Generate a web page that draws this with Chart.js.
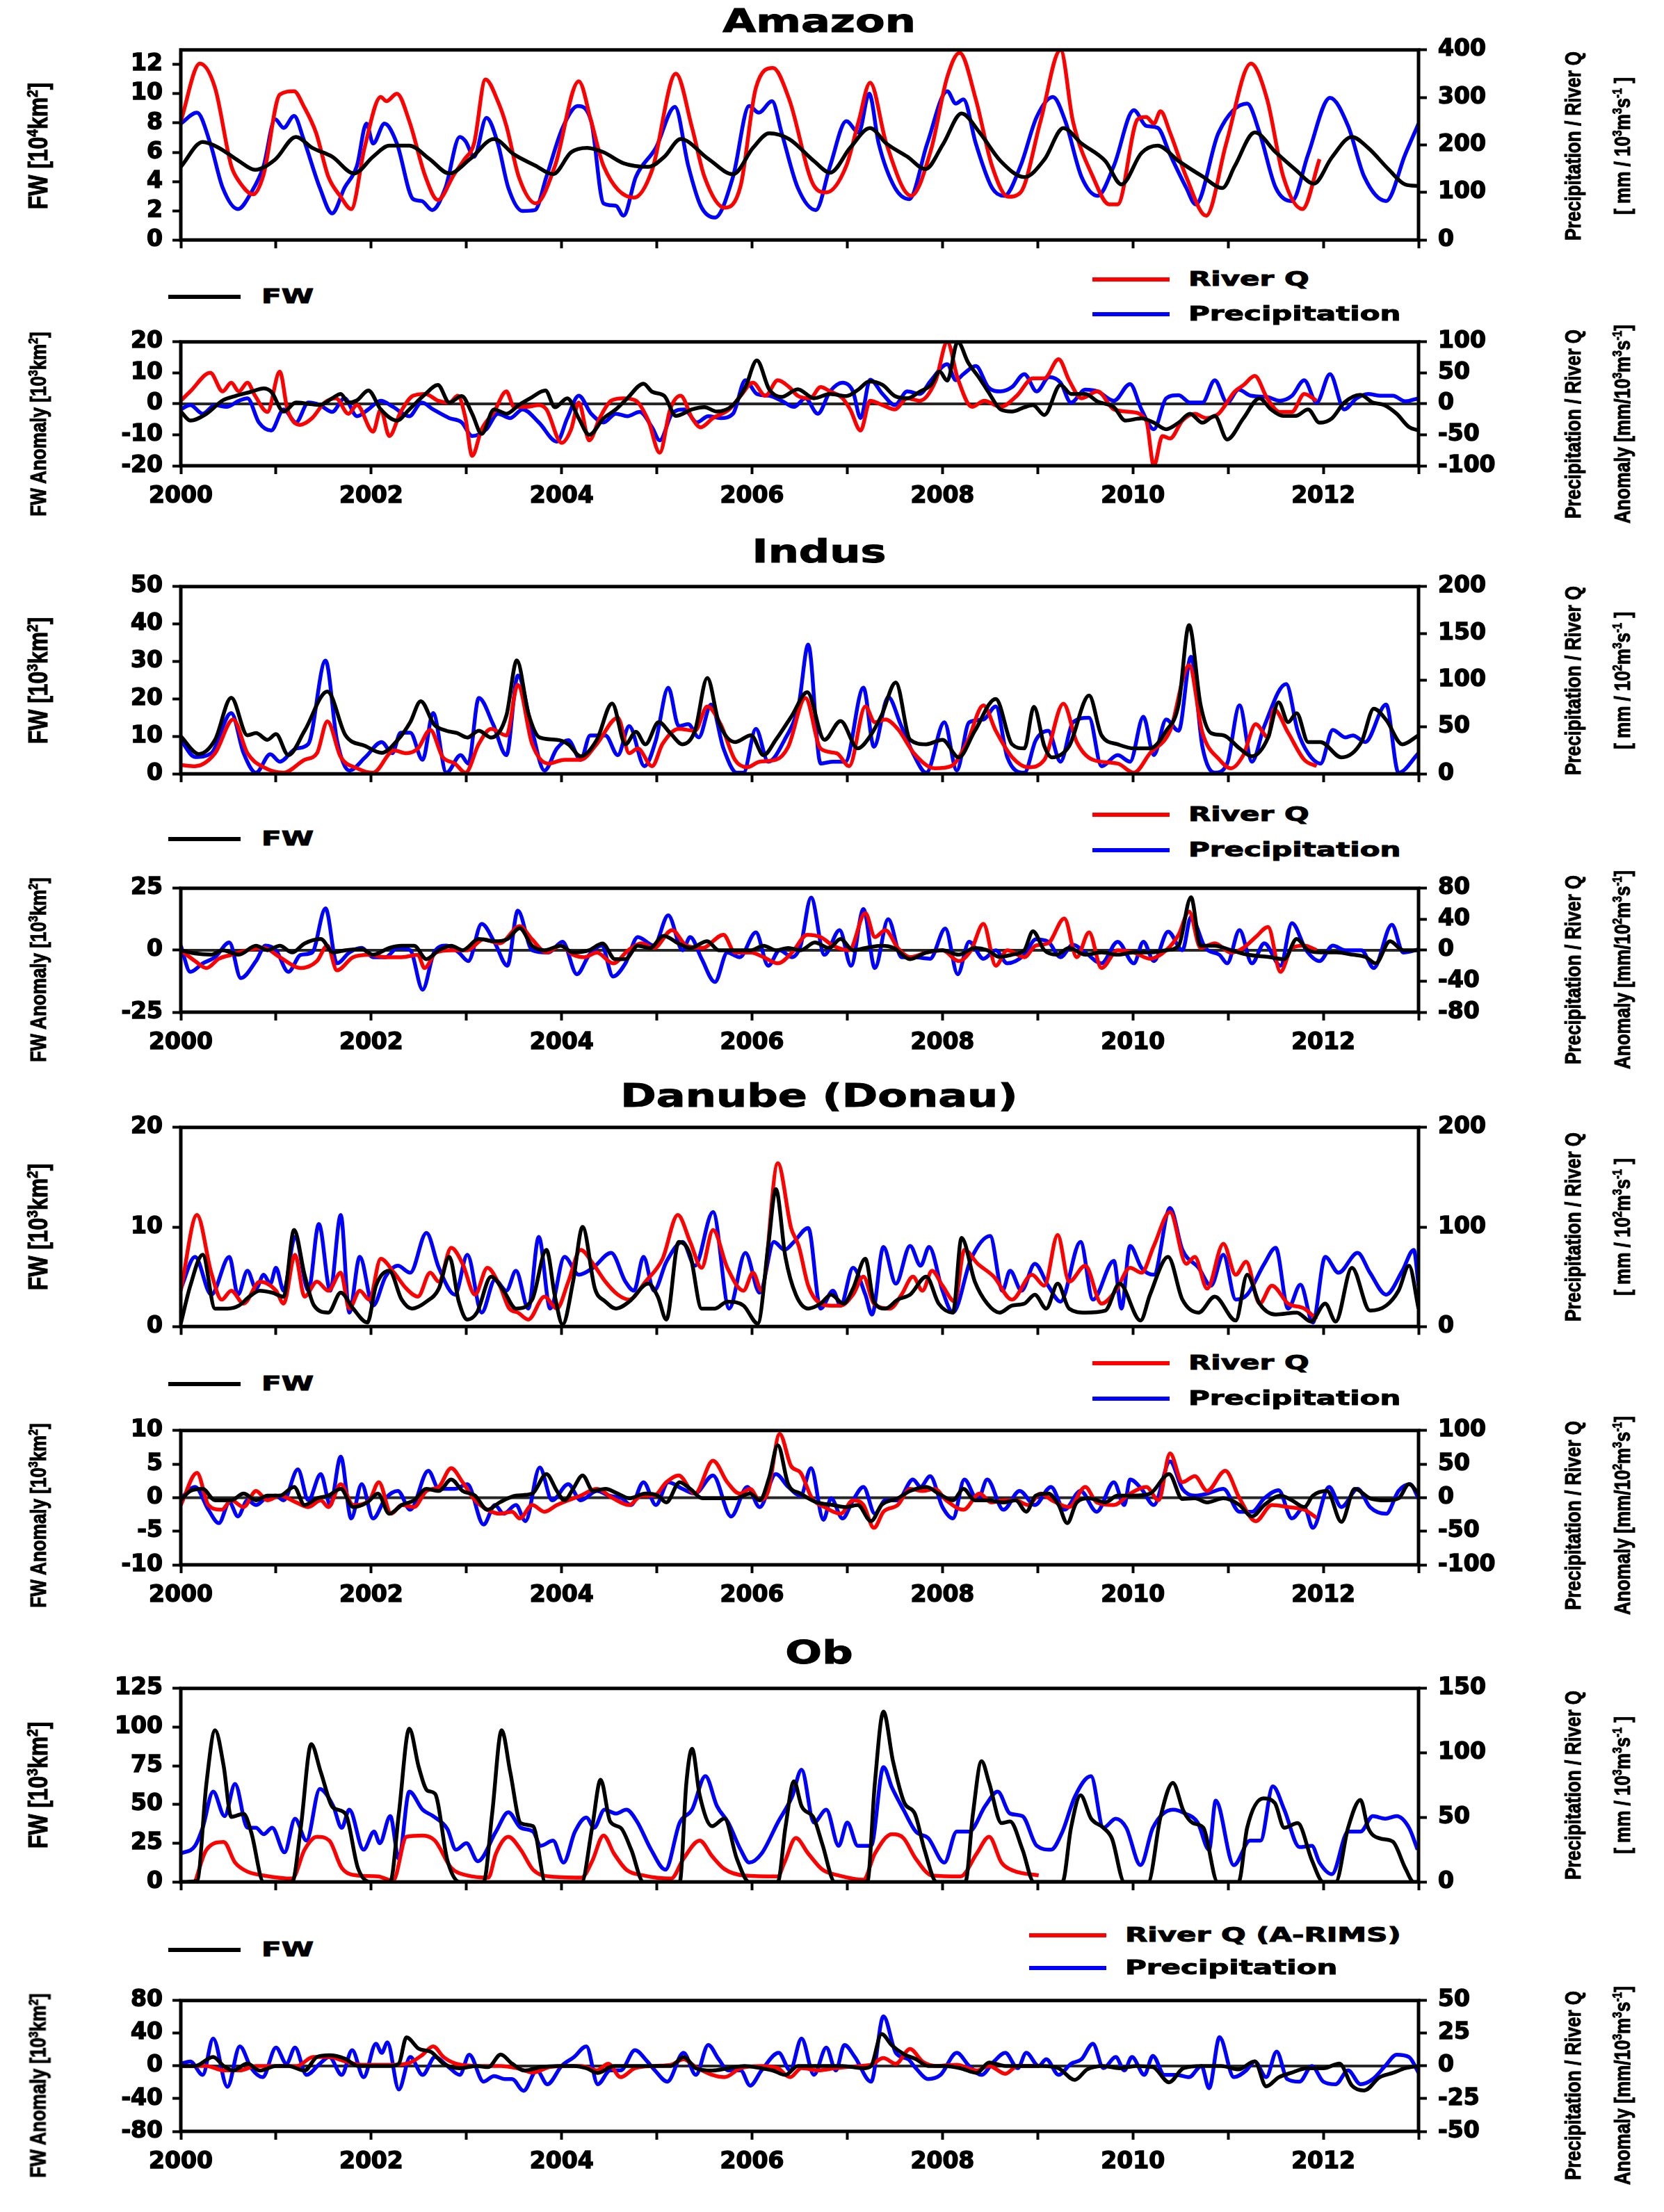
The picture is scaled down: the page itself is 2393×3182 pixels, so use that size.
<!DOCTYPE html>
<html>
<head>
<meta charset="utf-8">
<script src="https://cdn.jsdelivr.net/npm/chart.js@4.4.1/dist/chart.umd.min.js"></script>
<style>
body{margin:0;background:#fff;width:2393px;height:3182px;position:relative;overflow:hidden}
canvas{position:absolute;left:0}
.t{position:absolute;white-space:nowrap;font-weight:bold;color:#000;line-height:1}
.t sup{font-size:0.6em;vertical-align:0.6em;line-height:0}
.s{-webkit-text-stroke:1px #000}
.ln{position:absolute;height:6px}
</style>
</head>
<body>
<script>
// times are years since 2000; values in axis units
const baseYear = 2000;
const yearTicks = ['2000','2002','2004','2006','2008','2010','2012'];

// ---- Amazon ----
const amazonFW = [[0,5.0],[.23,6.7],[.40,6.3],[.61,5.4],[.78,4.8],[.99,5.5],[1.21,7.05],[1.38,6.3],[1.59,5.7],[1.82,4.55],[2.02,5.7],[2.19,6.45],[2.40,6.45],[2.61,5.55],[2.82,4.55],[3.04,5.55],[3.29,6.9],[3.50,5.85],[3.72,5.1],[3.91,4.5],[4.10,6.0],[4.27,6.3],[4.44,6.0],[4.65,5.25],[4.91,5.0],[5.08,5.7],[5.25,6.9],[5.54,5.55],[5.80,4.5],[6.01,6.3],[6.18,7.3],[6.39,6.9],[6.65,5.4],[6.82,4.6],[7.03,6.3],[7.24,7.65],[7.41,6.6],[7.63,5.7],[7.82,4.85],[8.01,6.6],[8.20,8.65],[8.39,7.35],[8.61,5.4],[8.86,4.3],[9.07,5.5],[9.27,7.65],[9.46,6.6],[9.71,5.4],[9.88,3.8],[10.09,5.95],[10.26,6.45],[10.48,5.4],[10.73,4.35],[10.94,3.55],[11.07,5.05],[11.28,7.35],[11.50,6.0],[11.71,4.8],[11.90,3.85],[12.09,5.65],[12.30,7.05],[12.47,6.3],[12.69,4.8],[12.86,3.8],[13,3.7]];
const amazonQT = [0,.20,.36,.53,.61,.76,.87,1.04,1.19,1.29,1.42,1.55,1.68,1.79,1.93,2.10,2.16,2.27,2.40,2.57,2.70,2.87,2.98,3.08,3.20,3.33,3.42,3.55,3.73,3.93,4.18,4.31,4.44,4.76,4.95,5.20,5.37,5.50,5.71,5.88,6.04,6.22,6.39,6.65,6.78,6.99,7.12,7.24,7.41,7.67,7.88,8.05,8.18,8.35,8.52,8.69,8.82,9.03,9.24,9.37,9.58,9.75,9.84,10.05,10.14,10.22,10.29,10.39,10.56,10.77,10.98,11.24,11.41,11.58,11.78,11.96];
const amazonQ = [250,371,320,156,124,96,138,306,313,282,226,133,91,65,194,301,292,308,250,133,84,138,170,203,338,292,240,133,77,156,334,250,156,89,147,350,236,133,68,114,320,362,296,114,100,156,250,331,203,93,190,343,394,296,156,91,100,250,400,250,133,75,75,254,259,245,271,226,133,51,203,371,296,133,65,170];
const amazonP = [[0,245],[.17,268],[.31,203],[.44,110],[.60,65],[.74,100],[.87,156],[.99,254],[1.08,236],[1.19,261],[1.29,212],[1.46,110],[1.59,56],[1.72,110],[1.85,156],[1.95,245],[2.02,203],[2.14,245],[2.27,203],[2.44,86],[2.53,82],[2.64,63],[2.78,110],[2.93,217],[2.99,208],[3.08,175],[3.21,257],[3.33,203],[3.44,110],[3.59,61],[3.72,63],[3.84,133],[4.01,236],[4.17,282],[4.31,250],[4.44,77],[4.57,72],[4.65,51],[4.78,133],[4.99,194],[5.19,280],[5.33,156],[5.46,72],[5.61,47],[5.80,133],[5.97,282],[6.07,268],[6.21,292],[6.31,226],[6.48,110],[6.67,63],[6.82,156],[6.99,250],[7.12,226],[7.23,308],[7.33,203],[7.50,110],[7.65,86],[7.84,203],[8.05,313],[8.14,287],[8.22,296],[8.35,203],[8.52,110],[8.65,93],[8.82,156],[8.99,259],[9.16,301],[9.29,250],[9.46,133],[9.63,93],[9.80,156],[10.01,273],[10.14,240],[10.26,236],[10.39,180],[10.56,110],[10.66,75],[10.90,226],[11.20,287],[11.33,226],[11.50,110],[11.67,82],[11.84,180],[12.07,299],[12.26,240],[12.43,133],[12.66,82],[12.86,180],[13,245]];

const amazonFWa = [[0,-2.5],[.10,-5.4],[.27,-3.2],[.44,1.1],[.57,2.5],[.74,3.9],[.87,5.0],[.95,3.9],[1.08,-2.5],[1.21,0.4],[1.34,0],[1.46,-0.4],[1.59,1.8],[1.68,3.2],[1.76,0.4],[1.85,1.1],[1.97,4.3],[2.10,-1.8],[2.27,-5.4],[2.40,-1.8],[2.57,3.2],[2.70,6.1],[2.82,0.4],[2.95,2.5],[3.06,-3.2],[3.16,-9.7],[3.29,-1.8],[3.42,-3.2],[3.55,-0.4],[3.67,1.8],[3.83,4.3],[3.93,-1.1],[4.06,1.8],[4.18,-4.7],[4.29,-10],[4.44,-4.7],[4.57,-1.8],[4.69,1.8],[4.86,6.5],[4.95,3.9],[5.08,2.5],[5.20,-3.9],[5.37,-1.8],[5.50,-1.1],[5.63,-2.5],[5.80,-0.4],[5.93,5.4],[6.05,14],[6.18,4.7],[6.31,2.2],[6.48,4.7],[6.65,1.8],[6.82,3.2],[6.99,2.5],[7.12,4.7],[7.23,7.2],[7.37,6.1],[7.50,2.5],[7.63,1.8],[7.76,3.9],[7.88,6.1],[7.97,10.4],[8.05,7.5],[8.16,20],[8.27,13.3],[8.39,8.2],[8.48,3.9],[8.61,-1.8],[8.73,-2.5],[8.86,-1.1],[8.95,-0.4],[9.07,-3.6],[9.24,6.1],[9.35,3.2],[9.50,3.2],[9.63,0.7],[9.80,-1.1],[9.92,-5.4],[10.09,-4.7],[10.22,-6.1],[10.35,-8.2],[10.48,-6.1],[10.60,-3.2],[10.73,-6.1],[10.86,-3.9],[10.99,-11.5],[11.16,-4.7],[11.33,1.8],[11.45,-1.8],[11.58,-3.9],[11.71,-3.9],[11.84,-1.8],[11.96,-6.1],[12.09,-4.7],[12.22,0.4],[12.39,2.9],[12.52,0.4],[12.64,-0.4],[12.77,-3.2],[12.90,-7.5],[13,-8.6]];
const amazonQa = [[0,5],[.10,20],[.31,50],[.44,20],[.53,34],[.61,20],[.70,34],[.78,13],[.91,-13],[1.04,52],[1.12,-9],[1.25,-34],[1.38,-23],[1.51,2],[1.63,9],[1.76,-16],[1.85,-2],[2.02,-45],[2.10,-9],[2.19,-52],[2.31,-13],[2.44,13],[2.57,16],[2.70,5],[2.82,2],[2.91,13],[2.99,-23],[3.06,-84],[3.16,-41],[3.29,-13],[3.42,20],[3.50,-5],[3.63,-5],[3.76,-2],[3.84,-9],[4.00,-63],[4.10,-41],[4.18,2],[4.29,-59],[4.40,-23],[4.52,5],[4.65,9],[4.78,5],[4.91,-27],[5.03,-79],[5.14,-9],[5.25,13],[5.37,-23],[5.46,-38],[5.59,-23],[5.76,-9],[5.88,13],[6.01,34],[6.14,13],[6.27,38],[6.39,27],[6.48,13],[6.61,9],[6.72,27],[6.82,20],[6.95,9],[7.03,-9],[7.14,-43],[7.24,5],[7.37,-2],[7.50,-9],[7.63,9],[7.76,5],[7.93,38],[8.05,100],[8.16,41],[8.31,-5],[8.44,5],[8.61,-5],[8.78,13],[8.95,41],[9.07,41],[9.22,72],[9.33,38],[9.46,9],[9.63,20],[9.80,-9],[9.97,-13],[10.14,-27],[10.22,-100],[10.31,-52],[10.39,-56],[10.52,-27],[10.65,-16],[10.77,-23],[10.90,-16],[11.07,20],[11.16,30],[11.28,45],[11.41,9],[11.54,-13],[11.67,-13],[11.80,16],[11.93,5]];
const amazonPa = [[0,-9],[.10,-2],[.23,-16],[.36,-2],[.48,-5],[.61,5],[.70,9],[.82,-30],[.95,-43],[1.08,-9],[1.21,-30],[1.34,2],[1.46,-2],[1.59,-13],[1.72,9],[1.85,-20],[1.97,-9],[2.10,5],[2.23,-5],[2.40,-20],[2.53,2],[2.65,-9],[2.82,-23],[2.95,-30],[3.06,-52],[3.21,-41],[3.33,-16],[3.46,-23],[3.59,-9],[3.76,-30],[3.95,-61],[4.06,-23],[4.18,13],[4.31,-16],[4.44,-30],[4.57,-16],[4.69,-20],[4.82,-13],[4.95,-38],[5.03,-59],[5.16,-16],[5.29,-9],[5.42,-30],[5.54,-20],[5.67,-23],[5.80,-16],[5.93,38],[6.05,16],[6.18,13],[6.31,5],[6.44,-5],[6.56,9],[6.69,-16],[6.82,20],[6.95,34],[7.06,20],[7.14,-23],[7.24,39],[7.37,16],[7.50,-2],[7.63,20],[7.76,16],[7.88,38],[8.05,64],[8.14,38],[8.22,48],[8.35,61],[8.48,27],[8.61,20],[8.73,27],[8.86,48],[8.99,20],[9.12,43],[9.24,34],[9.35,2],[9.50,23],[9.63,20],[9.80,5],[9.97,32],[10.09,-9],[10.22,-41],[10.35,9],[10.48,14],[10.60,2],[10.73,2],[10.86,38],[10.99,2],[11.11,23],[11.24,13],[11.41,11],[11.54,5],[11.67,13],[11.80,38],[11.93,2],[12.07,48],[12.22,-9],[12.35,9],[12.47,16],[12.60,13],[12.73,13],[12.86,4],[13,9]];

// ---- Indus ----
const indusFW = [[0,10],[.19,5.3],[.36,9.1],[.53,20.3],[.70,10.3],[.79,10.9],[.91,9.1],[1.00,10.6],[1.13,5],[1.30,11.5],[1.54,22],[1.73,10.3],[1.94,7.4],[2.11,5.6],[2.28,9.1],[2.41,13.8],[2.52,19.4],[2.66,13.2],[2.79,11.5],[2.90,10.9],[3.01,9.7],[3.13,11.5],[3.26,9.7],[3.42,15.6],[3.53,30.3],[3.65,16.2],[3.77,9.7],[3.95,9.1],[4.07,7.9],[4.20,4.7],[4.37,9.1],[4.53,18.8],[4.67,7.9],[4.78,11.2],[4.88,7.9],[5.02,13.8],[5.14,10.9],[5.27,7.9],[5.40,11.5],[5.53,25.6],[5.65,13.8],[5.82,8.5],[5.99,10.3],[6.12,5],[6.25,9.1],[6.42,15.6],[6.58,21.8],[6.76,9.1],[6.93,14.1],[7.11,6.8],[7.23,9.7],[7.36,15.6],[7.51,24.4],[7.66,9.1],[7.83,7.9],[8.00,9.1],[8.17,4.4],[8.34,11.5],[8.56,20],[8.73,7.9],[8.86,6.8],[8.96,17.9],[9.07,7.4],[9.15,4.4],[9.33,7.4],[9.54,20.9],[9.67,10.3],[9.84,7.9],[10.01,6.8],[10.18,6.8],[10.35,11.5],[10.48,18.5],[10.59,39.7],[10.71,18.5],[10.82,10.9],[10.95,10.3],[11.12,6.8],[11.25,4.7],[11.42,9.7],[11.53,19.1],[11.63,13.8],[11.72,16.2],[11.84,8.5],[11.97,8.5],[12.19,4.4],[12.40,8.5],[12.53,17.4],[12.66,14.4],[12.83,7.9],[13,10.3]];
const indusQ = [[0,9.4],[.15,8.2],[.36,22],[.55,58],[.70,22],[.87,7.1],[1.08,1.2],[1.30,15],[1.43,22],[1.54,56],[1.68,18],[1.85,6],[2.02,1.2],[2.24,25],[2.37,22],[2.49,27],[2.62,47],[2.75,18],[2.88,11],[2.99,1.2],[3.13,32],[3.26,48],[3.42,41],[3.54,95],[3.69,32],[3.86,11],[4.03,15],[4.20,15],[4.37,32],[4.59,60],[4.71,22],[4.80,27],[4.95,8.2],[5.06,32],[5.23,48],[5.40,46],[5.53,72],[5.67,53],[5.82,15],[5.95,7.1],[6.08,13],[6.25,15],[6.38,29],[6.56,81],[6.72,27],[6.89,22],[7.02,8.2],[7.19,72],[7.29,55],[7.40,58],[7.53,48],[7.70,22],[7.92,5.9],[8.09,8.2],[8.26,34],[8.43,73],[8.56,46],[8.73,18],[8.90,7.1],[9.07,15],[9.27,75],[9.41,34],[9.58,15],[9.84,11],[10.01,1.2],[10.18,22],[10.39,46],[10.59,116],[10.73,44],[10.91,15],[11.03,5.9],[11.16,20],[11.29,53],[11.42,39],[11.48,69],[11.63,44],[11.80,15],[11.93,8.2]];
const indusP = [[0,36],[.15,18],[.32,22],[.53,65],[.66,22],[.79,1.2],[.94,21],[1.04,13],[1.21,27],[1.34,32],[1.52,121],[1.64,36],[1.77,3.5],[1.94,18],[2.11,34],[2.22,22],[2.31,44],[2.41,44],[2.54,15],[2.65,65],[2.79,1.2],[2.94,20],[3.02,11],[3.13,81],[3.28,53],[3.42,20],[3.54,105],[3.69,46],[3.82,3.5],[3.95,27],[4.07,36],[4.20,15],[4.30,41],[4.46,41],[4.59,20],[4.71,51],[4.87,8.2],[4.99,36],[5.12,92],[5.23,51],[5.33,53],[5.44,39],[5.57,74],[5.70,27],[5.84,1.2],[5.91,1.2],[6.04,48],[6.17,13],[6.34,36],[6.49,74],[6.59,138],[6.72,11],[6.85,13],[6.98,13],[7.17,92],[7.28,29],[7.43,82],[7.56,53],[7.70,20],[7.83,1.2],[8.02,55],[8.15,3.5],[8.28,55],[8.43,58],[8.56,72],[8.68,18],[8.86,1.2],[8.98,36],[9.11,46],[9.24,13],[9.37,55],[9.54,60],[9.67,8.2],[9.84,20],[9.97,13],[10.11,61],[10.22,20],[10.35,58],[10.48,46],[10.61,125],[10.73,29],[10.86,1.2],[10.99,11],[11.12,73],[11.25,13],[11.38,51],[11.61,96],[11.73,46],[11.84,22],[11.97,11],[12.10,47],[12.23,39],[12.31,41],[12.44,34],[12.66,74],[12.79,1.2],[13,22]];

const indusFWaT = [0,.15,.32,.44,.61,.79,.91,1.04,1.17,1.30,1.47,1.60,1.73,1.90,2.02,2.19,2.32,2.45,2.58,2.71,2.84,2.96,3.13,3.30,3.43,3.56,3.69,3.82,3.99,4.12,4.29,4.43,4.56,4.67,4.80,4.93,5.07,5.23,5.35,5.53,5.65,5.82,5.99,6.12,6.25,6.38,6.51,6.66,6.81,6.93,7.06,7.19,7.36,7.49,7.66,7.83,8.00,8.17,8.34,8.47,8.60,8.73,8.86,8.95,9.07,9.20,9.33,9.50,9.67,9.84,10.01,10.18,10.35,10.48,10.61,10.71,10.86,11.03,11.20,11.42,11.59,11.72,11.84,11.97,12.14,12.31,12.44,12.55,12.70,12.84,13];
const indusFWa = [0,-1.3,-1.8,0,-1.8,1.8,0,1.8,-0.9,2.7,4.5,-0.9,0,0.4,-1.8,0.9,1.8,1.8,-3.6,0,1.8,0,4.5,3.6,4.5,8.9,1.8,0,1.8,-0.9,0,2.7,-3.6,-3.6,1.8,0.9,5.8,2.7,0.9,3.6,0,0,0,1.8,0,0.9,0,3.1,0.9,4.5,0,0.9,1.8,0.9,-3.6,-0.9,0,-1.8,0.9,0,-2.7,-1.8,0,7.6,0,-1.8,0.9,-1.8,-0.9,-1.8,-0.9,-0.9,0,1.8,21.4,1.8,1.8,0,-1.8,-2.7,-3.6,4.5,0,-0.9,-0.9,-1.8,-2.7,-5.3,3.6,0,0];
const indusQaT = [0,.15,.27,.40,.53,.70,.87,1.04,1.26,1.43,1.54,1.64,1.81,1.98,2.15,2.32,2.49,2.56,2.68,2.84,3.01,3.18,3.35,3.56,3.69,3.84,3.99,4.12,4.24,4.37,4.54,4.70,4.84,4.97,5.16,5.31,5.48,5.70,5.82,5.99,6.12,6.27,6.42,6.58,6.72,6.85,7.02,7.19,7.29,7.40,7.53,7.66,7.83,8.00,8.17,8.30,8.43,8.56,8.68,8.86,8.98,9.11,9.28,9.41,9.54,9.67,9.84,10.01,10.18,10.35,10.48,10.59,10.71,10.86,11.03,11.16,11.29,11.42,11.55,11.67,11.80,11.93];
const indusQa = [0,-14,-23,-11,-6,0,3,-9,-23,-14,6,-26,-9,-6,-9,-9,-6,-23,-3,0,0,14,9,31,14,-3,6,-6,-9,-3,-17,0,9,3,26,6,3,20,-3,-3,-9,-17,-3,20,17,6,0,48,17,26,3,-9,-3,0,-14,0,34,-20,0,-9,6,9,41,-9,23,-23,0,-3,-11,0,20,50,3,9,-3,3,17,30,-28,3,6,0];
const indusPa = [[0,6],[.10,-28],[.23,-17],[.36,-9],[.51,10],[.63,-36],[.79,-14],[.89,6],[1.00,0],[1.13,-28],[1.26,-6],[1.38,-3],[1.52,54],[1.64,-17],[1.77,-3],[1.90,3],[2.02,-9],[2.15,-9],[2.28,3],[2.41,0],[2.54,-51],[2.66,-3],[2.79,6],[2.92,-3],[3.02,-14],[3.16,34],[3.30,9],[3.43,-20],[3.54,51],[3.69,0],[3.86,-3],[4.01,11],[4.16,-31],[4.29,-6],[4.42,6],[4.54,-34],[4.67,-17],[4.80,17],[4.97,6],[5.12,45],[5.27,0],[5.35,17],[5.47,-11],[5.61,-41],[5.74,-3],[5.87,-9],[6.04,23],[6.17,-20],[6.29,0],[6.42,-9],[6.51,6],[6.62,68],[6.76,-6],[6.92,26],[7.04,-20],[7.17,53],[7.29,-23],[7.43,40],[7.57,-9],[7.70,-9],[7.87,-11],[8.03,28],[8.16,-31],[8.28,11],[8.43,-11],[8.56,0],[8.68,-17],[8.86,-6],[8.98,14],[9.11,11],[9.24,-9],[9.37,7],[9.50,-3],[9.67,-17],[9.84,11],[10.01,-17],[10.11,11],[10.22,-14],[10.37,24],[10.52,0],[10.61,43],[10.76,3],[10.91,-6],[10.99,-17],[11.12,26],[11.25,-17],[11.38,9],[11.55,-20],[11.67,35],[11.82,0],[11.96,-14],[12.10,6],[12.23,0],[12.40,0],[12.53,-23],[12.72,33],[12.84,-3],[13,1]];

// ---- Danube ----
const danubeFWT = [0,.10,.23,.36,.49,.61,.72,.83,.96,1.08,1.19,1.30,1.40,1.55,1.68,1.81,1.96,2.05,2.19,2.32,2.43,2.58,2.71,2.82,2.92,3.01,3.11,3.26,3.39,3.52,3.69,3.84,3.93,4.01,4.12,4.22,4.35,4.46,4.57,4.71,4.91,5.01,5.10,5.23,5.35,5.47,5.61,5.74,5.91,6.06,6.17,6.25,6.35,6.46,6.59,6.72,6.83,6.96,7.06,7.19,7.28,7.40,7.53,7.66,7.83,7.96,8.11,8.20,8.34,8.47,8.60,8.73,8.86,8.97,9.09,9.21,9.33,9.50,9.71,9.86,10.08,10.18,10.37,10.52,10.69,10.86,11.08,11.20,11.33,11.50,11.72,11.87,12.02,12.13,12.30,12.49,12.66,12.79,12.90,13];
const danubeFW = [0.3,4.1,7.2,1.8,1.8,2.1,3.0,3.6,3.4,3.0,9.7,5.2,2.1,1.4,3.4,1.8,0.4,4.1,5.6,2.7,1.8,2.5,3.8,7.0,2.5,0.7,1.4,5.0,3.6,1.8,2.7,7.7,3.0,0.2,4.5,10,3.8,2.5,1.8,2.5,4.3,3.0,0.7,8.5,7.2,1.8,1.8,2.5,2.1,0.3,8.1,13.8,7.0,3.2,1.8,2.3,3.2,2.3,3.8,6.8,2.5,1.8,2.7,3.2,5.0,2.3,1.4,8.9,4.5,2.3,1.4,2.1,2.3,3.2,1.8,4.3,1.8,1.4,1.6,4.3,0.6,3.2,7.0,2.7,1.4,3.0,0.6,5.2,2.3,1.2,1.4,0.5,2.3,0.5,5.9,1.6,2.1,3.6,6.1,1.8];
const danubeQT = [0,.17,.32,.43,.53,.66,.83,1.00,1.08,1.20,1.30,1.43,1.55,1.68,1.77,1.88,1.98,2.10,2.24,2.37,2.49,2.62,2.71,2.84,2.96,3.09,3.22,3.35,3.45,3.54,3.65,3.82,3.95,4.07,4.20,4.33,4.46,4.59,4.71,4.88,5.06,5.22,5.35,5.47,5.59,5.74,5.91,6.01,6.10,6.27,6.41,6.49,6.59,6.72,6.83,6.93,7.06,7.17,7.28,7.45,7.57,7.69,7.79,7.89,8.00,8.13,8.23,8.37,8.54,8.73,8.94,9.07,9.21,9.33,9.50,9.67,9.82,9.97,10.09,10.22,10.39,10.56,10.65,10.78,10.95,11.08,11.19,11.33,11.46,11.63,11.80,11.93];
const danubeQ = [36,112,54,27,36,23,45,36,23,72,30,45,36,54,18,36,27,68,54,38,30,54,45,79,63,32,59,41,18,14,7,30,18,45,77,63,45,32,27,45,68,112,85,59,97,59,36,54,36,164,99,81,41,23,21,21,32,50,23,18,32,50,36,56,41,25,77,63,50,27,52,41,92,45,61,23,36,59,54,81,115,63,70,38,83,52,65,23,41,23,18,7];
const danubePT = [0,.15,.32,.51,.60,.70,.79,.87,.94,1.00,1.08,1.20,1.34,1.45,1.57,1.68,1.77,1.88,2.02,2.15,2.28,2.41,2.58,2.71,2.88,3.01,3.16,3.30,3.42,3.52,3.65,3.76,3.88,4.03,4.18,4.33,4.52,4.67,4.76,4.86,4.97,5.10,5.27,5.40,5.59,5.76,5.93,6.08,6.23,6.34,6.44,6.59,6.72,6.85,6.93,7.06,7.19,7.26,7.38,7.51,7.66,7.77,7.86,8.00,8.11,8.30,8.50,8.63,8.71,8.83,8.97,9.11,9.24,9.45,9.58,9.80,9.88,9.97,10.09,10.22,10.39,10.52,10.69,10.82,10.95,11.08,11.20,11.38,11.50,11.63,11.76,11.89,12.02,12.16,12.36,12.49,12.66,12.83,12.95,13];
const danubeP = [38,70,32,70,32,56,38,52,43,59,36,90,36,103,36,112,14,70,21,50,61,54,94,59,32,72,14,47,36,56,18,90,18,70,52,59,74,45,36,70,36,65,85,61,115,18,74,34,85,77,85,99,18,36,21,59,32,12,80,43,81,61,80,36,14,68,91,36,56,36,63,41,25,85,27,66,18,81,59,52,119,77,59,41,72,27,32,63,79,18,42,4,70,54,74,54,32,56,77,41];

const danubeFWaT = [0,.10,.23,.36,.53,.66,.79,.91,1.04,1.19,1.30,1.43,1.55,1.68,1.81,1.96,2.07,2.19,2.32,2.45,2.58,2.71,2.84,2.96,3.09,3.22,3.35,3.52,3.69,3.84,3.95,4.03,4.12,4.22,4.33,4.46,4.59,4.71,4.88,5.01,5.10,5.24,5.35,5.48,5.65,5.82,5.98,6.08,6.18,6.27,6.38,6.51,6.68,6.85,6.98,7.11,7.25,7.36,7.53,7.66,7.83,7.96,8.11,8.22,8.34,8.47,8.64,8.77,8.88,8.98,9.11,9.22,9.31,9.41,9.54,9.71,9.84,10.01,10.18,10.38,10.52,10.65,10.78,10.95,11.12,11.25,11.38,11.55,11.67,11.80,11.89,12.04,12.19,12.33,12.49,12.66,12.79,12.90,13];
const danubeFWa = [-0.4,1.0,1.3,-0.4,-0.4,0.6,-0.4,0.3,0.3,1.6,-1.1,-0.1,0.3,1.3,-1.4,-0.7,0.6,-2.4,-1.1,-0.4,1.3,1.0,2.7,1.0,0.3,-1.8,-0.7,0.3,0.6,3.5,1.0,-0.4,1.3,3.3,1.0,1.3,0.6,-0.1,0.6,0.3,-0.7,2.3,1.3,-0.1,-0.1,-0.1,0.6,-0.4,3.0,7.8,2.0,0.6,-0.7,-1.1,-1.4,-1.1,-3.5,-1.1,-0.1,1.0,1.6,0.6,-0.4,1.3,-0.4,-0.4,-0.7,-0.4,-2.1,0.3,0.6,-1.1,-3.8,-0.7,-0.1,-0.7,0.3,0.3,0.6,3.5,-0.2,-0.1,-0.7,-0.1,-1.1,-2.8,-1.1,0.3,-0.4,-1.4,0.3,1.0,-3.6,1.3,-0.1,-0.4,-0.1,2.0,0.6];
const danubeQaT = [0,.17,.29,.43,.53,.66,.79,.91,1.04,1.21,1.34,1.47,1.55,1.68,1.81,1.98,2.08,2.21,2.32,2.45,2.58,2.71,2.84,2.96,3.09,3.22,3.35,3.48,3.56,3.69,3.82,3.95,4.07,4.20,4.37,4.54,4.71,4.84,4.97,5.10,5.23,5.40,5.59,5.74,5.87,5.98,6.08,6.17,6.29,6.41,6.51,6.63,6.76,6.93,7.06,7.17,7.28,7.38,7.53,7.66,7.79,7.92,8.04,8.22,8.39,8.51,8.64,8.77,8.90,9.03,9.15,9.33,9.50,9.62,9.80,9.97,10.14,10.27,10.39,10.52,10.65,10.78,10.97,11.12,11.29,11.46,11.63,11.80,11.93];
const danubeQa = [-11,37,-11,-18,-4,-14,10,-4,3,-7,-14,-4,-14,20,-11,-4,23,-24,-11,-14,10,16,44,23,-4,-18,-24,-21,-31,-11,-21,-11,-4,3,13,-1,-11,3,3,23,33,6,55,23,6,13,-4,10,95,47,37,-1,-14,-24,-4,-11,-45,-21,-11,13,10,13,-4,-18,6,-7,-4,-4,-11,6,-4,-14,16,-7,-11,6,16,-4,66,23,32,10,40,-1,-35,-11,-14,-18,-30];
const danubePaT = [0,.15,.29,.40,.51,.60,.70,.79,.89,1.00,1.08,1.23,1.34,1.47,1.57,1.68,1.79,1.90,2.02,2.15,2.28,2.41,2.60,2.71,2.88,3.01,3.18,3.30,3.39,3.52,3.62,3.77,3.90,4.07,4.20,4.37,4.50,4.63,4.73,4.86,4.99,5.12,5.27,5.40,5.59,5.78,5.95,6.08,6.25,6.38,6.51,6.62,6.75,6.83,6.95,7.06,7.17,7.29,7.40,7.53,7.69,7.77,7.87,8.00,8.11,8.23,8.37,8.47,8.64,8.81,8.97,9.14,9.28,9.45,9.62,9.80,9.91,9.97,10.09,10.22,10.39,10.52,10.65,10.78,10.95,11.12,11.25,11.38,11.53,11.67,11.80,11.89,12.06,12.19,12.36,12.49,12.66,12.79,12.91,13];
const danubePa = [-1,16,-18,-38,-7,-28,-4,-11,-1,3,-4,42,-4,35,-11,61,-31,20,-31,-1,10,-18,40,13,13,20,-40,-11,-24,-11,-35,45,-4,20,-4,10,3,-1,-11,23,-11,23,13,6,33,-28,16,-14,35,16,3,44,-33,-1,-31,-4,16,-24,-4,-4,27,16,32,-14,-31,27,-4,27,-18,10,-11,16,-18,10,-21,23,-11,27,13,-11,54,13,3,6,13,-21,-21,-1,11,-31,-14,-45,16,-14,13,-14,-24,10,20,-1];

// ---- Ob ----
const obFWT = [0,.17,.27,.36,.45,.53,.66,.74,.87,1.17,1.26,1.37,1.47,1.60,1.73,1.86,1.99,2.20,2.29,2.40,2.50,2.59,2.67,2.80,2.93,3.18,3.27,3.37,3.46,3.57,3.70,3.83,4.21,4.32,4.41,4.51,4.62,4.73,4.86,5.24,5.31,5.37,5.45,5.58,5.71,5.84,5.97,6.27,6.35,6.44,6.52,6.65,6.74,6.87,7.21,7.29,7.38,7.48,7.60,7.71,7.81,7.94,8.24,8.32,8.41,8.49,8.62,8.71,8.84,8.96,9.26,9.35,9.45,9.56,9.69,9.78,9.91,10.16,10.29,10.42,10.53,10.63,10.74,10.89,11.11,11.20,11.37,11.49,11.59,11.73,11.88,12.00,12.13,12.26,12.39,12.47,12.60,12.73,12.86,12.95,13];
const obFW = [0,0.7,64,98,75,42,44,32,0,0,35,89,71,48,44,9,0,0,44,99,74,59,57,14,0,0,44,98,71,38,36,0,0,35,66,39,35,21,0,0,64,86,56,36,41,15,0,0,35,65,49,41,24,0,0,64,110,78,51,44,21,0,0,44,78,64,38,39,21,0,0,35,56,41,35,28,0,0,42,64,46,38,35,0,0,35,54,51,35,38,14,0,0,35,53,35,28,26,9,0,0];
const obQT = [.15,.27,.45,.57,.70,.87,1.17,1.30,1.43,1.56,1.69,1.86,2.07,2.23,2.37,2.54,2.67,2.84,3.01,3.23,3.31,3.44,3.57,3.70,3.87,4.21,4.32,4.44,4.55,4.68,4.86,5.15,5.28,5.45,5.58,5.71,5.92,6.27,6.34,6.46,6.59,6.74,6.91,7.17,7.29,7.47,7.59,7.72,7.89,8.19,8.36,8.49,8.62,8.75,9.01];
const obQ = [0,25,31,15,8,5,2.6,25,35,32,11,5,4.3,0.9,35,36,32,11,5,3.4,22,35,25,9.5,4.3,3.4,16,36,22,9.5,5,2.6,18,32,20,10,5,4.3,15,34,22,9.5,5,1.7,22,37,34,18,5,4.3,22,35,15,8.6,5];
const obPT = [0,.15,.23,.34,.46,.57,.70,.79,.87,.96,1.09,1.20,1.32,1.46,1.60,1.69,1.77,1.92,2.03,2.09,2.20,2.29,2.40,2.54,2.65,2.80,2.89,3.00,3.12,3.31,3.44,3.57,3.70,3.78,3.91,4.02,4.14,4.26,4.34,4.45,4.57,4.68,4.79,4.94,5.09,5.24,5.37,5.51,5.63,5.75,5.88,5.97,6.10,6.27,6.42,6.52,6.65,6.78,6.91,7.00,7.11,7.25,7.38,7.47,7.59,7.72,7.85,8.02,8.15,8.28,8.45,8.58,8.71,8.84,8.99,9.14,9.26,9.39,9.56,9.69,9.82,9.93,10.08,10.21,10.42,10.55,10.68,10.80,10.87,11.06,11.23,11.34,11.47,11.59,11.75,11.88,11.96,12.09,12.26,12.39,12.52,12.65,12.77,12.90,12.99];
const obP = [22,28,42,70,51,76,42,42,37,42,23,49,32,72,59,42,56,25,39,30,51,18,70,56,51,41,25,30,16,39,54,42,39,28,32,15,39,50,42,56,53,56,47,25,9.5,46,56,82,59,46,25,15,22,46,66,87,46,56,28,46,28,28,89,73,56,39,34,15,39,39,59,70,53,51,28,25,39,66,82,42,49,42,13,42,56,53,46,25,63,13,32,32,74,56,27,28,15,6,39,39,51,49,51,42,25];

const obFWaT = [0,.15,.34,.45,.55,.70,.83,1.00,1.13,1.30,1.43,1.56,1.73,1.86,2.03,2.20,2.29,2.37,2.50,2.63,2.76,2.93,3.10,3.23,3.36,3.48,3.61,3.78,3.96,4.13,4.26,4.38,4.55,4.73,4.98,5.15,5.28,5.41,5.58,5.75,5.92,6.10,6.22,6.35,6.48,6.61,6.78,6.95,7.17,7.25,7.36,7.47,7.60,7.72,7.85,8.02,8.19,8.36,8.49,8.66,8.88,9.05,9.22,9.39,9.52,9.69,9.86,10.03,10.21,10.38,10.53,10.72,10.93,11.11,11.28,11.40,11.53,11.66,11.83,12.00,12.17,12.30,12.43,12.59,12.73,12.86,13];
const obFWa = [0,0,11,0,-5.6,2.8,-5.6,0,0,-5.6,11,13,8.5,0,0,0,2.8,35,21,17,2.8,-2.8,0,-1.4,14,2.8,-5.6,-1.4,0,0,-2.8,-8.5,0,0,0,0,11,-2.8,-5.6,-2.8,0,-2.8,-5.6,-11,0,0,0,0,-2.8,0,39,25,14,8.5,0,0,-2.8,-8.5,4.2,0,0,0,-2.8,-17,-4.2,0,-2.8,0,-1.4,-20,-2.8,0,0,-4.2,5.6,-25,-14,-8.5,-2.8,-2.8,2.8,-24,-30,-14,-8.5,-2.8,0];
const obQaT = [0,.27,.45,.62,.79,1.04,1.22,1.39,1.56,1.73,1.90,2.07,2.24,2.41,2.54,2.65,2.76,2.89,3.10,3.36,3.53,3.70,3.87,4.04,4.21,4.37,4.49,4.62,4.77,4.98,5.15,5.28,5.41,5.58,5.71,5.88,6.10,6.27,6.40,6.52,6.70,6.87,7.12,7.25,7.38,7.51,7.66,7.79,7.94,8.15,8.36,8.49,8.66,8.79,9.01];
const obQa = [0,0,-3.4,-3.4,0,0,0,6.8,6.8,3.4,0.9,0.9,0.9,2.6,8.6,15,6.8,1.7,0,0,-1.7,-5.1,-0.9,0,0,-3.4,1.7,-8.6,-1.7,0,0.9,5.1,-0.9,-6.8,-8.6,-1.7,0,-1.7,-8.6,-1.7,-3.4,-1.7,0,0.9,6,1.7,13,3.4,0,0.9,-3.4,0,-6,0,0];
const obPaT = [0,.10,.23,.34,.49,.62,.74,.86,1.00,1.11,1.20,1.32,1.46,1.56,1.69,1.80,1.92,2.05,2.11,2.17,2.29,2.41,2.54,2.67,2.80,2.93,3.03,3.18,3.29,3.40,3.48,3.60,3.74,3.85,4.00,4.13,4.26,4.38,4.51,4.62,4.77,4.90,4.98,5.11,5.28,5.41,5.54,5.65,5.75,5.88,5.98,6.10,6.28,6.40,6.52,6.65,6.78,6.88,6.97,7.08,7.25,7.38,7.51,7.64,7.72,7.85,7.98,8.15,8.28,8.41,8.54,8.66,8.79,8.88,9.01,9.09,9.22,9.35,9.46,9.58,9.69,9.82,9.91,9.99,10.12,10.21,10.33,10.46,10.59,10.72,10.80,10.91,11.06,11.19,11.28,11.40,11.51,11.62,11.75,11.88,12.00,12.13,12.26,12.39,12.52,12.65,12.77,12.90,13];
const obPa = [1.7,3.4,-6.8,21,-16,15,-1.7,-8.6,14,1.7,14,-6.8,1.7,6.8,-6.8,12,-8.6,17,10,18,-18,6.8,-6.8,6.8,0,-6.8,8.6,-12,-7.7,-10,-10,-19,-3.4,-14,0,6.8,15,-14,-3.4,-3.4,12,3.4,-3.4,-12,10,-6.8,16,5.1,-3.4,-3.4,-15,-3.4,10,-3.4,21,-6.8,14,-3.4,16,6.8,-12,38,10,5.1,-1.7,-10,-6.8,10,0,-6.8,3.4,10,-1.7,10,0,5.1,-6.8,1.7,5.1,17,-1.7,6.8,-3.4,6.8,-6.8,7.7,-6.8,-6.8,-8.6,0,-17,22,-8.6,-3.4,3.4,-8.6,11,-10,-12,0,-12,-14,-3.4,-14,-10,0,8.6,6.8,-5.1];

// pairs, or parallel time/value arrays -> chart points
function toPoints(a, b) {
  if (b) return a.map((t, i) => ({x: baseYear + t, y: b[i]}));
  return a.map(p => ({x: baseYear + p[0], y: p[1]}));
}

const W = 2393, PLOT_L = 260, PLOT_R = 2040;
const BLACK = '#000000', RED = '#ff0000', BLUE = '#0000ff';

const framePlugin = {
  id: 'frame',
  beforeDatasetsDraw(chart, args, opts) {
    if (!opts.zero) return;
    const a = chart.chartArea, ctx = chart.ctx;
    const y = chart.scales.yL.getPixelForValue(0);
    ctx.save();
    ctx.strokeStyle = '#262626';
    ctx.lineWidth = 4;
    ctx.beginPath(); ctx.moveTo(a.left, y); ctx.lineTo(a.right, y); ctx.stroke();
    ctx.restore();
  },
  afterDatasetsDraw(chart) {
    const a = chart.chartArea, ctx = chart.ctx;
    ctx.save();
    ctx.strokeStyle = '#000';
    ctx.lineWidth = 5;
    ctx.strokeRect(a.left, a.top, a.right - a.left, a.bottom - a.top);
    ctx.restore();
  }
};

const tickFont = {family: 'DejaVu Sans', weight: 'bold', size: 33};
function gridOpts() {
  return {drawOnChartArea: false, drawTicks: true, tickLength: 12, tickWidth: 4, tickColor: '#000', color: '#000'};
}

function makePanel(p) {
  const padTop = 30, padBottom = p.labels ? 74 : 30;
  const h = p.bottom - p.top + padTop + padBottom;
  const canvas = document.createElement('canvas');
  canvas.width = W; canvas.height = h;
  canvas.style.top = (p.top - padTop) + 'px';
  canvas.style.width = W + 'px'; canvas.style.height = h + 'px';
  document.body.appendChild(canvas);

  new Chart(canvas, {
    type: 'line',
    data: {
      datasets: p.series.map(s => ({
        data: s[0], yAxisID: s[1], borderColor: s[2], borderWidth: 5.5,
        pointRadius: 0, fill: false, cubicInterpolationMode: 'monotone'
      }))
    },
    options: {
      responsive: false, animation: false, devicePixelRatio: 1,
      layout: {padding: {top: padTop, bottom: 0, left: 0, right: 0}},
      plugins: {legend: {display: false}, tooltip: {enabled: false}, frame: {zero: p.zero}},
      scales: {
        x: {
          type: 'linear', min: 2000, max: 2013, border: {display: false}, grid: gridOpts(),
          ticks: {stepSize: 1, autoSkip: false, maxRotation: 0, color: '#000', font: tickFont, padding: 13,
            textStrokeColor: '#000', textStrokeWidth: 1.5,
            callback: v => (p.labels && yearTicks.includes(String(v))) ? String(v) : ''},
          afterFit: s => { s.height = padBottom; }
        },
        yL: {
          position: 'left', min: p.left[0], max: p.left[1], border: {display: false}, grid: gridOpts(),
          ticks: {stepSize: p.left[2], includeBounds: false, color: '#000', font: tickFont, padding: 14,
            textStrokeColor: '#000', textStrokeWidth: 1.5},
          afterFit: s => { s.width = PLOT_L; }
        },
        yR: {
          position: 'right', min: p.right[0], max: p.right[1], border: {display: false}, grid: gridOpts(),
          ticks: {stepSize: p.right[2], includeBounds: false, color: '#000', font: tickFont, padding: 16,
            textStrokeColor: '#000', textStrokeWidth: 1.5},
          afterFit: s => { s.width = W - PLOT_R; }
        }
      }
    },
    plugins: [framePlugin]
  });
}

const panels = [
  {top: 66, bottom: 351, left: [0, 13, 2], right: [0, 400, 100], labels: false, zero: false,
   series: [[toPoints(amazonFW), 'yL', BLACK], [toPoints(amazonQT, amazonQ), 'yR', RED], [toPoints(amazonP), 'yR', BLUE]]},
  {top: 486, bottom: 670, left: [-20, 20, 10], right: [-100, 100, 50], labels: true, zero: true,
   series: [[toPoints(amazonFWa), 'yL', BLACK], [toPoints(amazonQa), 'yR', RED], [toPoints(amazonPa), 'yR', BLUE]]},
  {top: 838, bottom: 1119, left: [0, 50, 10], right: [0, 200, 50], labels: false, zero: false,
   series: [[toPoints(indusFW), 'yL', BLACK], [toPoints(indusQ), 'yR', RED], [toPoints(indusP), 'yR', BLUE]]},
  {top: 1272, bottom: 1456, left: [-25, 25, 25], right: [-80, 80, 40], labels: true, zero: true,
   series: [[toPoints(indusFWaT, indusFWa), 'yL', BLACK], [toPoints(indusQaT, indusQa), 'yR', RED], [toPoints(indusPa), 'yR', BLUE]]},
  {top: 1616, bottom: 1914, left: [0, 20, 10], right: [0, 200, 100], labels: false, zero: false,
   series: [[toPoints(danubeFWT, danubeFW), 'yL', BLACK], [toPoints(danubeQT, danubeQ), 'yR', RED], [toPoints(danubePT, danubeP), 'yR', BLUE]]},
  {top: 2052, bottom: 2251, left: [-10, 10, 5], right: [-100, 100, 50], labels: true, zero: true,
   series: [[toPoints(danubeFWaT, danubeFWa), 'yL', BLACK], [toPoints(danubeQaT, danubeQa), 'yR', RED], [toPoints(danubePaT, danubePa), 'yR', BLUE]]},
  {top: 2423, bottom: 2713, left: [0, 125, 25], right: [0, 150, 50], labels: false, zero: false,
   series: [[toPoints(obFWT, obFW), 'yL', BLACK], [toPoints(obQT, obQ), 'yR', RED], [toPoints(obPT, obP), 'yR', BLUE]]},
  {top: 2872, bottom: 3066, left: [-80, 80, 40], right: [-50, 50, 25], labels: true, zero: true,
   series: [[toPoints(obFWaT, obFWa), 'yL', BLACK], [toPoints(obQaT, obQa), 'yR', RED], [toPoints(obPaT, obPa), 'yR', BLUE]]}
];
panels.forEach(makePanel);

// ---- text overlays ----
function addText(html, x, y, family, size, transform, origin, cls) {
  const d = document.createElement('div');
  d.className = 't' + (cls ? ' ' + cls : '');
  d.innerHTML = html;
  d.style.left = x + 'px';
  d.style.top = y + 'px';
  d.style.fontFamily = family;
  d.style.fontSize = size + 'px';
  d.style.transform = transform;
  if (origin) d.style.transformOrigin = origin;
  document.body.appendChild(d);
}
function addLine(x1, x2, y, color) {
  const d = document.createElement('div');
  d.className = 'ln';
  d.style.left = x1 + 'px';
  d.style.top = (y - 3) + 'px';
  d.style.width = (x2 - x1) + 'px';
  d.style.background = color;
  document.body.appendChild(d);
}

const titleFont = '"DejaVu Sans", sans-serif';
const axisFont = '"Liberation Sans", Arial, sans-serif';
const rot = 'translate(-50%,-50%) rotate(-90deg) scaleX(0.84)';

const titles = [['Amazon', 30], ['Indus', 793], ['Danube (Donau)', 1576], ['Ob', 2377]];
titles.forEach(t => addText(t[0], 1178, t[1], titleFont, 46, 'translate(-50%,-50%) scaleX(1.35)', null, 's'));

const fwTop = ['FW [10<sup>4</sup>km<sup>2</sup>]', 'FW [10<sup>3</sup>km<sup>2</sup>]', 'FW [10<sup>3</sup>km<sup>2</sup>]', 'FW [10<sup>3</sup>km<sup>2</sup>]'];
const fwAnom = 'FW Anomaly [10<sup>3</sup>km<sup>2</sup>]';
const rightLine1 = 'Precipitation / River Q';
const unitExp = ['3', '2', '2', '3'];
const topCentres = [210, 979, 1765, 2568];
const anomCentres = [610, 1395, 2180, 3000];

for (let i = 0; i < 4; i++) {
  const e = unitExp[i];
  addText(fwTop[i], 55, topCentres[i], axisFont, 38, rot, null, 's');
  addText(fwAnom, 55, anomCentres[i], axisFont, 31, rot, null, 's');
  addText(rightLine1, 2262, topCentres[i], axisFont, 31, rot, null, 's');
  addText('[ mm / 10<sup>' + e + '</sup>m<sup>3</sup>s<sup>-1</sup> ]', 2333, topCentres[i], axisFont, 31, rot, null, 's');
  addText(rightLine1, 2262, anomCentres[i], axisFont, 31, rot, null, 's');
  addText('Anomaly [mm/10<sup>' + e + '</sup>m<sup>3</sup>s<sup>-1</sup>]', 2333, anomCentres[i], axisFont, 31, rot, null, 's');
}

// legends: [River Q y, FW y, Precipitation y, line start, text start, label]
const legends = [
  [402, 427, 452, 1571, 1709, 'River Q'],
  [1172, 1207, 1223, 1571, 1709, 'River Q'],
  [1961, 1991, 2012, 1571, 1709, 'River Q'],
  [2784, 2805, 2831, 1480, 1618, 'River Q (A-RIMS)']
];
const legScale = 'translate(0,-50%) scaleX(1.5)';
legends.forEach(l => {
  addLine(l[3], l[3] + 111, l[0], RED);
  addText(l[5], l[4], l[0], titleFont, 28, legScale, 'left center', 's');
  addLine(242, 346, l[1], BLACK);
  addText('FW', 376, l[1], titleFont, 28, legScale, 'left center', 's');
  addLine(l[3], l[3] + 111, l[2], BLUE);
  addText('Precipitation', l[4], l[2], titleFont, 28, legScale, 'left center', 's');
});
</script>
</body>
</html>
